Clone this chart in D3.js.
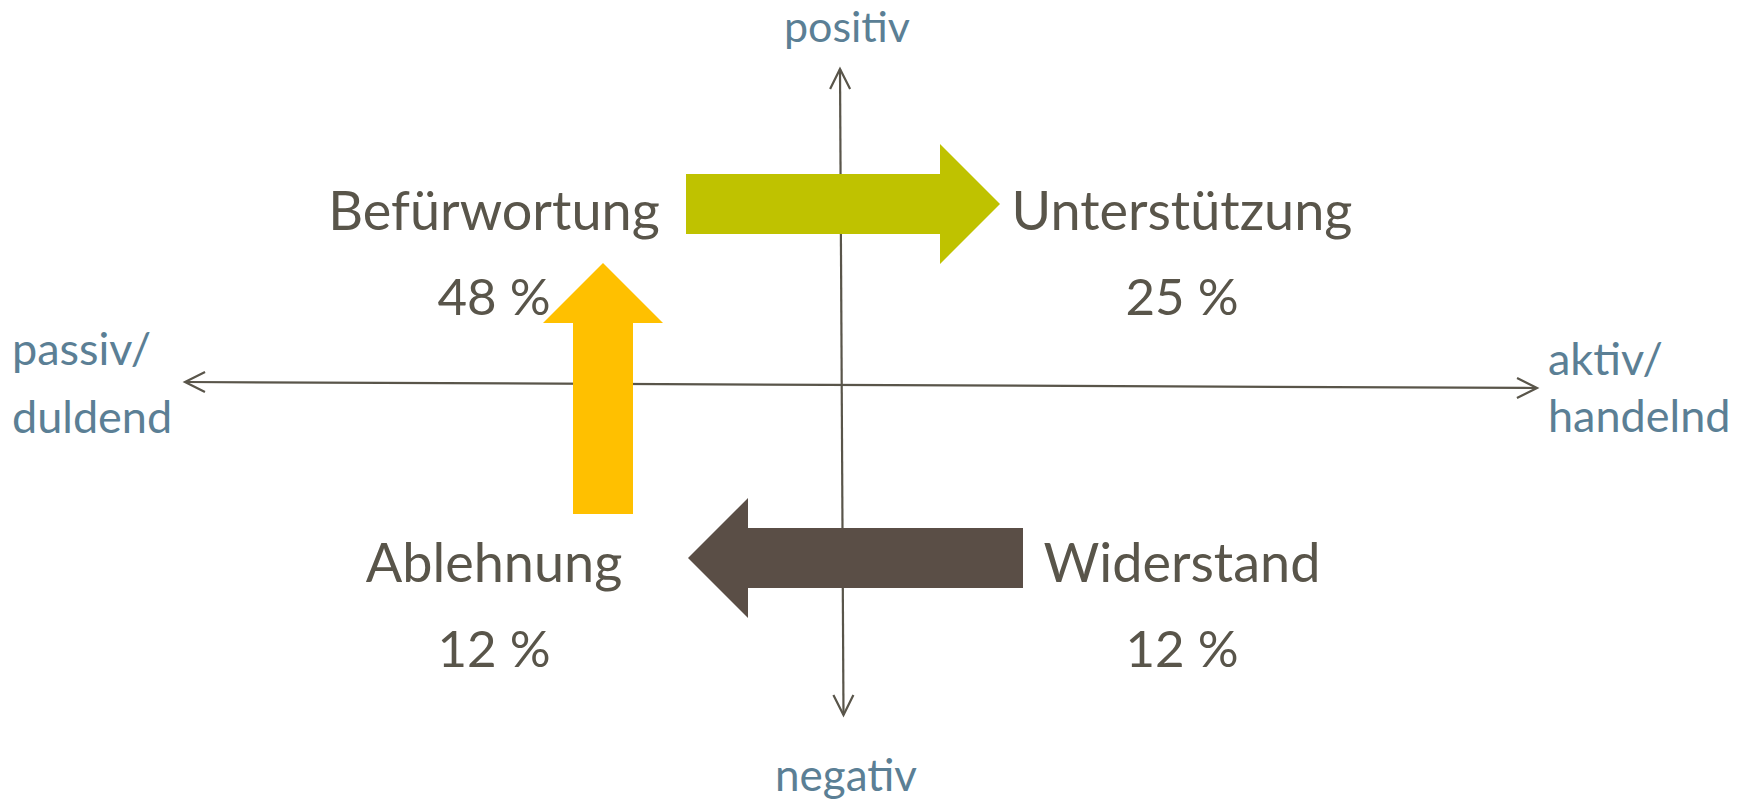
<!DOCTYPE html>
<html lang="de">
<head>
    <meta charset="UTF-8">
    <title>Akzeptanz-Quadranten</title>
    <script src="https://d3js.org/d3.v7.min.js"></script>
    <style>
        body {
            margin: 0;
            background-color: #ffffff;
        }
        .chart {
            display: block;
        }
        .quad-label, .quad-share {
            font-family: Lato, "Open Sans", sans-serif;
            fill: #59554a;
        }
        .pole-label {
            font-family: Lato, "Open Sans", sans-serif;
            fill: #5b7f95;
        }
        .axis-line {
            fill: none;
            stroke: #59554a;
            stroke-width: 2.2;
        }
    </style>
</head>
<body>
    <svg class="chart" width="1746" height="802"></svg>

    <script>
        // Quadrants
        const quadLabels = ["Befürwortung", "Unterstützung", "Ablehnung", "Widerstand"];
        const quadShares = [48, 25, 12, 12];
        const quadCols = ["passiv", "aktiv", "passiv", "aktiv"];
        const quadRows = ["positiv", "positiv", "negativ", "negativ"];

        // Transitions between quadrants
        const flowFrom = ["Ablehnung", "Befürwortung", "Widerstand"];
        const flowTo = ["Befürwortung", "Unterstützung", "Ablehnung"];

        // Axis pole labels
        const poleTop = ["positiv"];
        const poleBottom = ["negativ"];
        const poleLeft = ["passiv/", "duldend"];
        const poleRight = ["aktiv/", "handelnd"];

        const svg = d3.select(".chart");

        const colX = d3.scalePoint().domain(["passiv", "aktiv"]).range([494, 1182]);
        const rowY = d3.scalePoint().domain(["positiv", "negativ"]).range([230, 582]);
        const flowColor = d3.scaleOrdinal()
            .domain(flowFrom)
            .range(["#ffc000", "#bfc200", "#5a4e46"]);

        // Axes frame: x from passive to active, y from negative to positive
        const axisX = d3.scaleLinear().domain([-1, 1]).range([185, 1537]);
        const axisY = d3.scaleLinear().domain([-1, 1]).range([715, 69]);

        const line = d3.line();
        const hStart = [axisX(-1), 382], hEnd = [axisX(1), 388];
        const vStart = [843.5, axisY(-1)], vEnd = [840, axisY(1)];

        svg.append("path").attr("class", "axis-line").attr("d", line([hStart, hEnd]));
        svg.append("path").attr("class", "axis-line").attr("d", line([vStart, vEnd]));

        function unit(a, b) {
            const l = Math.hypot(b[0] - a[0], b[1] - a[1]);
            return [(b[0] - a[0]) / l, (b[1] - a[1]) / l];
        }

        // open arrow heads at all four ends
        function openHead(tip, dx, dy) {
            const len = 20, spread = 10;
            const px = -dy, py = dx;
            return line([
                [tip[0] - dx * len + px * spread, tip[1] - dy * len + py * spread],
                tip,
                [tip[0] - dx * len - px * spread, tip[1] - dy * len - py * spread]
            ]);
        }
        [[hStart, hEnd], [hEnd, hStart], [vStart, vEnd], [vEnd, vStart]].forEach(([a, b]) => {
            const [dx, dy] = unit(a, b);
            svg.append("path").attr("class", "axis-line").attr("d", openHead(b, dx, dy));
        });

        // Block arrows between quadrants
        const anchor = name => {
            const i = quadLabels.indexOf(name);
            return [colX(quadCols[i]), rowY(quadRows[i]) - 20];
        };
        // trim at start, trim at end, sideways shift (px)
        const arrowFit = [[48, 53, 109], [192, 182, -6], [159, 194, -4]];
        const bodyW = 60, headW = 120, headL = 60;

        flowFrom.forEach((src, k) => {
            const a = anchor(src), b = anchor(flowTo[k]);
            const [dx, dy] = unit(a, b);
            const [px, py] = [-dy, dx];
            const [t0, t1, sh] = arrowFit[k];
            const shX = dx === 0 ? sh : 0;
            const shY = dy === 0 ? sh : 0;
            const s = [a[0] + dx * t0 + shX, a[1] + dy * t0 + shY];
            const e = [b[0] - dx * t1 + shX, b[1] - dy * t1 + shY];
            const len = Math.hypot(e[0] - s[0], e[1] - s[1]);
            const pt = (t, w) => [s[0] + dx * t + px * w, s[1] + dy * t + py * w];
            const pts = [
                pt(0, -bodyW / 2), pt(len - headL, -bodyW / 2), pt(len - headL, -headW / 2),
                pt(len, 0),
                pt(len - headL, headW / 2), pt(len - headL, bodyW / 2), pt(0, bodyW / 2)
            ];
            svg.append("path")
                .attr("d", line(pts) + "Z")
                .attr("fill", flowColor(src));
        });

        // Quadrant labels and shares
        const quads = svg.selectAll(".quad")
            .data(quadLabels)
            .join("g")
            .attr("class", "quad");

        quads.append("text")
            .attr("class", "quad-label")
            .attr("x", (d, i) => colX(quadCols[i]))
            .attr("y", (d, i) => rowY(quadRows[i]))
            .attr("text-anchor", "middle")
            .attr("font-size", 54)
            .text(d => d);

        quads.append("text")
            .attr("class", "quad-share")
            .attr("x", (d, i) => colX(quadCols[i]))
            .attr("y", (d, i) => rowY(quadRows[i]) + 85)
            .attr("text-anchor", "middle")
            .attr("font-size", 51)
            .text((d, i) => `${quadShares[i]} %`);

        // Pole labels
        svg.selectAll(".pole-top").data(poleTop).join("text")
            .attr("class", "pole-label")
            .attr("x", 847).attr("y", 42)
            .attr("text-anchor", "middle")
            .attr("font-size", 43)
            .text(d => d);

        svg.selectAll(".pole-bottom").data(poleBottom).join("text")
            .attr("class", "pole-label")
            .attr("x", 846).attr("y", 791)
            .attr("text-anchor", "middle")
            .attr("font-size", 44)
            .text(d => d);

        svg.selectAll(".pole-left").data(poleLeft).join("text")
            .attr("class", "pole-label")
            .attr("x", 12).attr("y", (d, i) => 365 + i * 68)
            .attr("font-size", 45)
            .text(d => d);

        svg.selectAll(".pole-right").data(poleRight).join("text")
            .attr("class", "pole-label")
            .attr("x", 1548).attr("y", (d, i) => 375 + i * 57)
            .attr("font-size", 45)
            .text(d => d);
    </script>
</body>
</html>
